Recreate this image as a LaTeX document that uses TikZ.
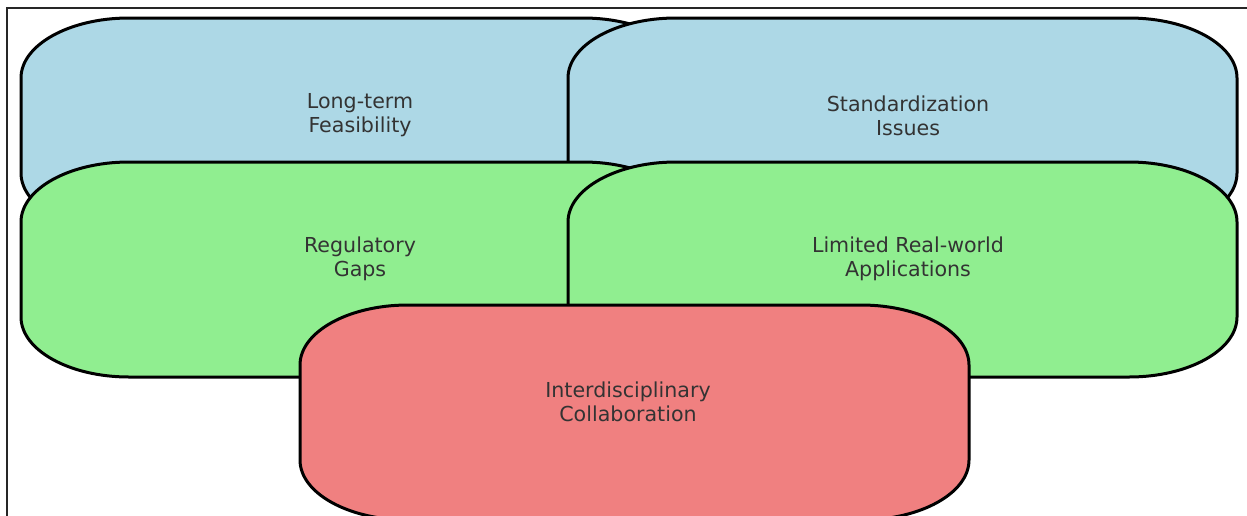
\documentclass[tikz,border=0pt]{standalone}
\usepackage{fontspec}
\setmainfont{DejaVu Sans}
\definecolor{bboxblue}{HTML}{ADD8E6}
\definecolor{bboxgreen}{HTML}{90EE90}
\definecolor{bboxred}{HTML}{F08080}
\definecolor{txtgray}{HTML}{333333}
\newcommand{\ebox}[5]{%
  \filldraw[boxline, fill=#5]
    ({#1+108},#2) -- ({#3-108},#2)
    .. controls ({#3-48.4},#2) and (#3,{#2+26.9}) .. (#3,{#2+60})
    -- (#3,{#4-60})
    .. controls (#3,{#4-26.9}) and ({#3-48.4},#4) .. ({#3-108},#4)
    -- ({#1+108},#4)
    .. controls ({#1+48.4},#4) and (#1,{#4-26.9}) .. (#1,{#4-60})
    -- (#1,{#2+60})
    .. controls (#1,{#2+26.9}) and ({#1+48.4},#2) .. ({#1+108},#2) -- cycle;}
\begin{document}
\begin{tikzpicture}[x=1pt,y=-1pt,
  boxline/.style={line width=3pt, draw=black, line join=round},
  lbl/.style={font=\fontsize{20.6}{24}\selectfont, text=txtgray, align=center, inner sep=0pt}]
\useasboundingbox (0,0) rectangle (1247,515);
\begin{scope}
\clip (0,0) rectangle (1247,515);
\draw[line width=2pt, draw=black!85] (7,8) rectangle (1270,540);
\ebox{21}{18}{691}{233}{bboxblue}
\node[lbl] (lt) at (360,115.5) {Long-term\\Feasibility};
\ebox{568}{18}{1237}{233}{bboxblue}
\node[lbl] (si) at (908,115.5) {Standardization\\Issues};
\ebox{21}{162}{691}{377}{bboxgreen}
\node[lbl] (rg) at (360,259) {Regulatory\\Gaps};
\ebox{568}{162}{1237}{377}{bboxgreen}
\node[lbl] (lr) at (908,259) {Limited Real-world\\Applications};
\ebox{300}{305}{969}{520}{bboxred}
\node[lbl] (ic) at (628,402) {Interdisciplinary\\Collaboration};
\end{scope}
\end{tikzpicture}
\end{document}
